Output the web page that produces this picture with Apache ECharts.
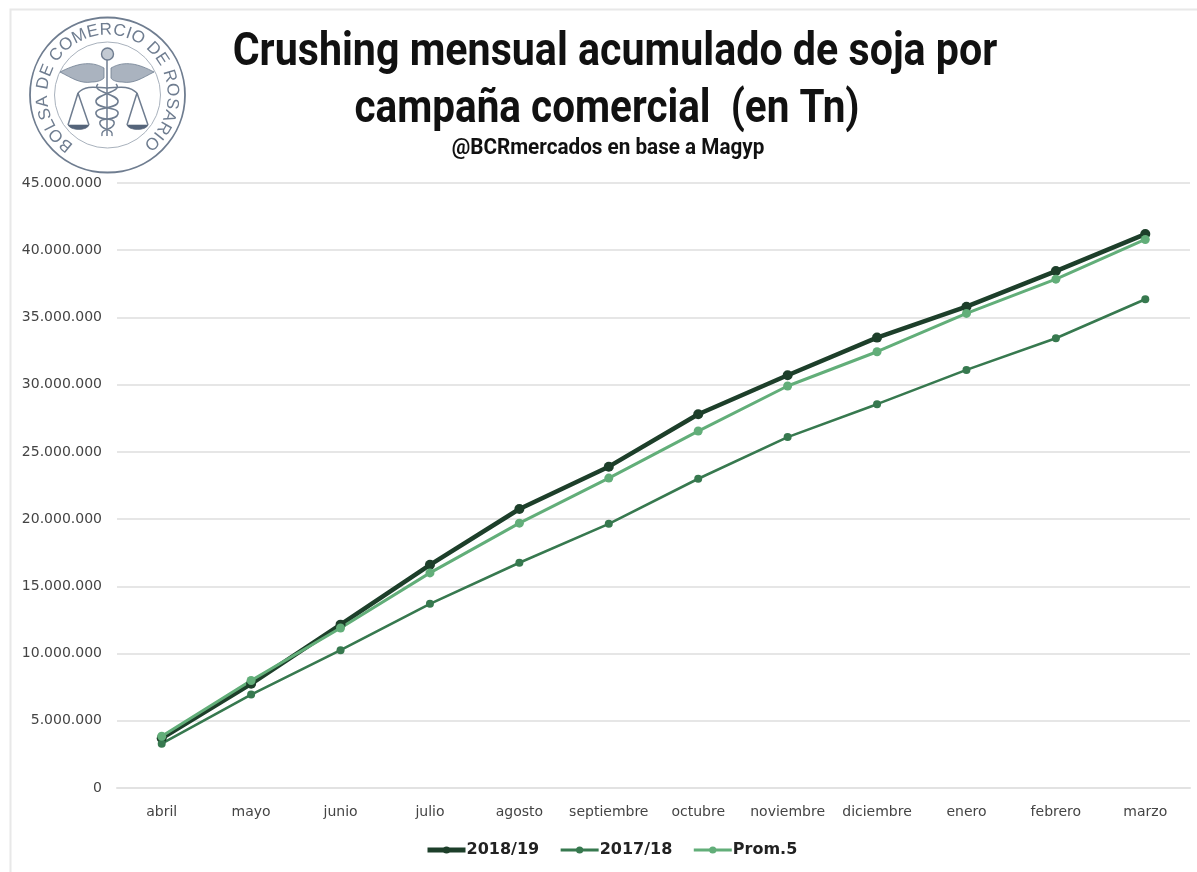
<!DOCTYPE html>
<html>
<head>
<meta charset="utf-8">
<style>
  html, body { margin: 0; padding: 0; background: #fff; }
  #chart { width: 1197px; height: 872px; }
</style>
<script src="https://cdn.jsdelivr.net/npm/echarts@6/dist/echarts.min.js"></script>
</head>
<body>
<div id="chart"></div>
<script>
const categories = ['abril', 'mayo', 'junio', 'julio', 'agosto', 'septiembre', 'octubre', 'noviembre', 'diciembre', 'enero', 'febrero', 'marzo']
const campaign1819 = [3700000, 7750000, 12150000, 16600000, 20750000, 23900000, 27800000, 30700000, 33500000, 35800000, 38450000, 41200000]
const campaign1718 = [3300000, 6950000, 10250000, 13700000, 16750000, 19650000, 23000000, 26100000, 28550000, 31100000, 33450000, 36350000]
const prom5 = [3850000, 8000000, 11900000, 16000000, 19700000, 23050000, 26550000, 29900000, 32450000, 35300000, 37850000, 40800000]

const sealText = 'BOLSA DE COMERCIO DE ROSARIO'
const sealColor = '#6f7d90'
const sealFont = '17px "Liberation Sans"'
const cx = 107.5
const cy = 95

// el componente graphic no acepta pathData directo: se registra cada forma
let shapeCount = 0
function pathEl(d, style) {
  const name = 'seal' + shapeCount++
  echarts.graphic.registerShape(name, echarts.graphic.extendPath(d, {}))
  return { type: name, shape: {}, style, silent: true }
}

// sello de la Bolsa
function sealElements() {
  const out = [
    { type: 'circle', shape: { cx, cy, r: 77.5 }, style: { fill: 'none', stroke: sealColor, lineWidth: 1.8 } },
    { type: 'circle', shape: { cx, cy, r: 53 }, style: { fill: 'none', stroke: '#a9b2bd', lineWidth: 1 } }
  ]
  // cada letra ocupa un arco proporcional a su ancho
  const ctx = document.createElement('canvas').getContext('2d')
  ctx.font = sealFont
  const widths = sealText.split('').map(ch => ctx.measureText(ch).width)
  const total = widths.reduce((a, b) => a + b, 0)
  let run = 0
  sealText.split('').forEach((ch, i) => {
    const deg = -146 + (run + widths[i] / 2) / total * 290
    run += widths[i]
    const rad = deg * Math.PI / 180
    out.push({
      type: 'text',
      x: cx + 65 * Math.sin(rad),
      y: cy - 65 * Math.cos(rad),
      rotation: -rad,
      style: { text: ch, fill: sealColor, font: sealFont, align: 'center', verticalAlign: 'middle' }
    })
  })
  const filled = [
    // alas
    'M104 68 C90 60 76 64 60 72 C72 78 80 84 92 82 C98 82 102 80 104 78 Z',
    'M111 68 C125 60 139 64 154 72 C142 78 134 84 122 82 C116 82 112 80 111 78 Z'
  ]
  filled.forEach(d => out.push(pathEl(d, { fill: '#aab3bf', stroke: sealColor, lineWidth: 0.8 })))
  const pans = [
    'M68 125 L89 125 C87 131 71 131 68 125 Z',
    'M127 125 L148 125 C146 131 129 131 127 125 Z'
  ]
  pans.forEach(d => out.push(pathEl(d, { fill: '#55647a', stroke: '#55647a', lineWidth: 0.6 })))
  const stroked = [
    // vara, balanza y serpiente
    'M107 60 L107 136',
    'M78 93 L68 125 M78 93 L89 125 M137 93 L127 125 M137 93 L148 125',
    'M78 93 C86 84 98 88 107 88 C116 88 128 84 137 93',
    'M116 84 C124 92 94 94 96 102 C98 110 120 106 118 114 C116 122 98 116 100 124 C102 131 114 128 112 136',
    'M98 84 C90 92 120 94 118 102 C116 110 94 106 96 114 C98 122 116 116 114 124 C112 131 100 128 102 136'
  ]
  stroked.forEach(d => out.push(pathEl(d, { fill: 'none', stroke: sealColor, lineWidth: 1.5 })))
  out.push({ type: 'circle', shape: { cx, cy: 54, r: 6 }, style: { fill: '#c3cad3', stroke: sealColor, lineWidth: 1.4 } })
  return out
}

const headText = (text, x, y, size, sx) => ({
  type: 'text', x, y, scaleX: sx,
  style: { text, fill: '#111', font: 'bold ' + size + 'px Roboto', align: 'center', verticalAlign: 'middle' }
})

const makeSeries = (name, data, color, width, size) => ({
  name,
  type: 'line',
  data,
  symbol: 'circle',
  symbolSize: size,
  lineStyle: { color, width },
  itemStyle: { color }
})

const chart = echarts.init(document.getElementById('chart'), null, { renderer: 'canvas' })
chart.setOption({
  animation: false,
  backgroundColor: '#fff',
  grid: { left: 117, right: 7, top: 183, bottom: 84 },
  legend: {
    bottom: 9, left: 420,
    itemWidth: 38, itemHeight: 9, itemGap: 20,
    textStyle: { fontFamily: '"DejaVu Sans"', fontWeight: 'bold', fontSize: 16, color: '#222', padding: [0, 0, 0, -4] },
    data: [
      { name: '2018/19', lineStyle: { width: 5 } },
      { name: '2017/18', lineStyle: { width: 3 } },
      { name: 'Prom.5', lineStyle: { width: 3 } }
    ]
  },
  xAxis: {
    type: 'category',
    data: categories,
    boundaryGap: true,
    axisLine: { lineStyle: { color: '#e2e2e2', width: 2 } },
    axisTick: { show: false },
    axisLabel: { fontFamily: '"DejaVu Sans"', fontSize: 14, color: '#444', margin: 17, interval: 0 }
  },
  yAxis: {
    type: 'value',
    min: 0, max: 45000000, interval: 5000000,
    axisLine: { show: false },
    axisTick: { show: false },
    splitLine: { lineStyle: { color: '#e6e6e6', width: 2 } },
    axisLabel: {
      fontFamily: '"DejaVu Sans"', fontSize: 14, color: '#444', margin: 15, padding: [3, 0, 0, 0],
      formatter: v => String(v).replace(/\B(?=(\d{3})+(?!\d))/g, '.')
    }
  },
  graphic: [
    { type: 'rect', shape: { x: 10.5, y: 9.5, width: 1200, height: 900 }, style: { fill: 'none', stroke: '#e8e8e8', lineWidth: 2 }, silent: true },
    ...sealElements(),
    headText('Crushing mensual acumulado de soja por', 615, 53, 46, 0.895),
    headText('campaña comercial  (en Tn)', 607, 110, 46, 0.88),
    headText('@BCRmercados en base a Magyp', 608, 148, 22, 0.94)
  ],
  series: [
    makeSeries('2018/19', campaign1819, '#1d3f2a', 4.5, 10),
    makeSeries('2017/18', campaign1718, '#37794f', 2.6, 8),
    makeSeries('Prom.5', prom5, '#62ae79', 3, 9)
  ]
})
</script>
</body>
</html>
